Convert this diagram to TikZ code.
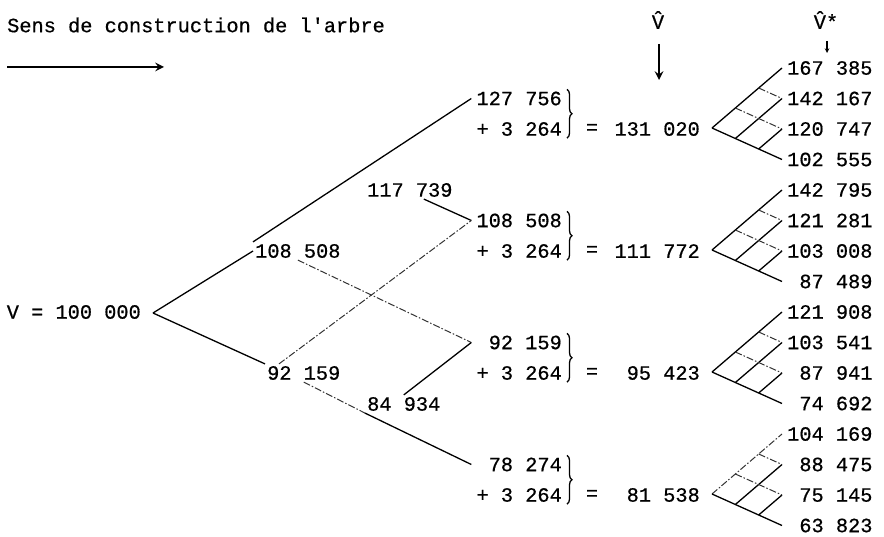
\documentclass[tikz,border=0pt]{standalone}
\usepackage{fontspec}
\newfontfamily\typew{Liberation Mono}[FakeBold=0.6]
\usetikzlibrary{arrows, calc, decorations.pathreplacing}
\newcommand{\fig}{\phantom{0}}
\tikzset{
  num/.style={font=\typew\fontsize{20.3}{24}\selectfont, inner sep=2pt},
  val/.style={num, inner xsep=5pt},
  br/.style={line width=1.3pt},
  fnt/.style={line width=1pt, black!80, dash pattern=on 7pt off 2pt on 1.5pt off 2pt},
  brc/.style={line width=1.3pt, decorate, decoration={brace, amplitude=5pt}},
  hdarr/.style={->, >=stealth, line width=2.8pt},
  smarr/.style={->, >=stealth, line width=1.1pt}
}
\begin{document}
\begin{tikzpicture}[x=1pt, y=-1pt]
		\useasboundingbox (0,0) rectangle (884,537);
		% titre et fleches
		\node[num, anchor=west] (title) at (5,25) {Sens de construction de l\textquotesingle arbre};
		\coordinate (h0) at (7,67);
		\coordinate (h1) at (164,67);
		\draw[hdarr] (h0) -- (h1);
		\node[num] (vhat) at (658,20) {\^{V}};
		\coordinate (vt0) at (659,44);
		\coordinate (vt1) at (659,80);
		\draw[hdarr] (vt0) -- (vt1);
		\node[num] (vstar) at (826,20) {\^{V}*};
		\coordinate (st0) at (827,41);
		\coordinate (st1) at (827,53);
		\draw[smarr] (st0) -- (st1);
		% quatre sommes et sous-arbres
		\begin{scope}
		\node[val, anchor=east] (v0) at (567,98.5) {127 756};
		\node[val, anchor=east] (p0) at (567,129) {+ 3 264};
		\draw[brc] (v0.north east) -- (p0.south east);
		\node[num] (eq) at (592,129) {=};
		\node[num, anchor=east] (s) at (702,129) {131 020};
		\coordinate (r) at (712,128);
		\node[val, anchor=west] (q0) at (782,68) {167 385};
		\node[val, anchor=west] (q1) at (782,98.5) {142 167};
		\node[val, anchor=west] (q2) at (782,129) {120 747};
		\node[val, anchor=west] (q3) at (782,159.5) {102 555};
		\draw[br] (r) -- (q0.west); \draw[br] (r) -- (q3.west);
		\draw[br] ($(r)!1/3!(q3.west)$) -- (q1.west);
		\draw[br] ($(r)!2/3!(q3.west)$) -- (q2.west);
		\draw[fnt] ($(r)!1/3!(q0.west)$) -- (q2.west);
		\draw[fnt] ($(r)!2/3!(q0.west)$) -- (q1.west);
		\end{scope}
		\begin{scope}[yshift=-122pt]
		\node[val, anchor=east] (v1) at (567,98.5) {108 508};
		\node[val, anchor=east] (p1) at (567,129) {+ 3 264};
		\draw[brc] (v1.north east) -- (p1.south east);
		\node[num] (eq) at (592,129) {=};
		\node[num, anchor=east] (s) at (702,129) {111 772};
		\coordinate (r) at (712,128);
		\node[val, anchor=west] (q0) at (782,68) {142 795};
		\node[val, anchor=west] (q1) at (782,98.5) {121 281};
		\node[val, anchor=west] (q2) at (782,129) {103 008};
		\node[val, anchor=west] (q3) at (782,159.5) {\fig87 489};
		\draw[br] (r) -- (q0.west); \draw[br] (r) -- (q3.west);
		\draw[br] ($(r)!1/3!(q3.west)$) -- (q1.west);
		\draw[br] ($(r)!2/3!(q3.west)$) -- (q2.west);
		\draw[fnt] ($(r)!1/3!(q0.west)$) -- (q2.west);
		\draw[fnt] ($(r)!2/3!(q0.west)$) -- (q1.west);
		\end{scope}
		\begin{scope}[yshift=-244pt]
		\node[val, anchor=east] (v2) at (567,98.5) {\fig92 159};
		\node[val, anchor=east] (p2) at (567,129) {+ 3 264};
		\draw[brc] (v2.north east) -- (p2.south east);
		\node[num] (eq) at (592,129) {=};
		\node[num, anchor=east] (s) at (702,129) {95 423};
		\coordinate (r) at (712,128);
		\node[val, anchor=west] (q0) at (782,68) {121 908};
		\node[val, anchor=west] (q1) at (782,98.5) {103 541};
		\node[val, anchor=west] (q2) at (782,129) {\fig87 941};
		\node[val, anchor=west] (q3) at (782,159.5) {\fig74 692};
		\draw[br] (r) -- (q0.west); \draw[br] (r) -- (q3.west);
		\draw[br] ($(r)!1/3!(q3.west)$) -- (q1.west);
		\draw[br] ($(r)!2/3!(q3.west)$) -- (q2.west);
		\draw[fnt] ($(r)!1/3!(q0.west)$) -- (q2.west);
		\draw[fnt] ($(r)!2/3!(q0.west)$) -- (q1.west);
		\end{scope}
		\begin{scope}[yshift=-366pt]
		\node[val, anchor=east] (v3) at (567,98.5) {\fig78 274};
		\node[val, anchor=east] (p3) at (567,129) {+ 3 264};
		\draw[brc] (v3.north east) -- (p3.south east);
		\node[num] (eq) at (592,129) {=};
		\node[num, anchor=east] (s) at (702,129) {81 538};
		\coordinate (r) at (712,128);
		\node[val, anchor=west] (q0) at (782,68) {104 169};
		\node[val, anchor=west] (q1) at (782,98.5) {\fig88 475};
		\node[val, anchor=west] (q2) at (782,129) {\fig75 145};
		\node[val, anchor=west] (q3) at (782,159.5) {\fig63 823};
		\draw[fnt] (r) -- (q0.west); \draw[br] (r) -- (q3.west);
		\draw[br] ($(r)!1/3!(q3.west)$) -- (q1.west);
		\draw[br] ($(r)!2/3!(q3.west)$) -- (q2.west);
		\draw[fnt] ($(r)!1/3!(q0.west)$) -- (q2.west);
		\draw[fnt] ($(r)!2/3!(q0.west)$) -- (q1.west);
		\end{scope}
		% arbre de gauche
		\coordinate (rt) at (153,313);
		\node[num, anchor=east] (root) at (143,312) {V = 100 000};
		\node[num, anchor=west] (u1) at (253,251) {108 508};
		\node[num, anchor=west] (d1) at (265,373) {92 159};
		\node[num, anchor=west] (u2) at (365,190) {117 739};
		\node[num, anchor=west] (d2) at (365,404) {84 934};
		\draw[br] (rt) -- (u1.west);
		\draw[br] (rt) -- (d1.north west);
		\draw[br] (u1.north west) -- (v0.west);
		\draw[br] ([xshift=14pt]u2.south) -- (v1.west);
		\draw[fnt] (u1.south) -- (v2.west);
		\draw[fnt] ([xshift=14pt]d1.north west) -- (v1.west);
		\draw[fnt] (d1.south) -- (d2.south west);
		\draw[br] (d2.south west) -- (v3.west);
		\draw[br] (d2.north) -- (v2.west);
	\end{tikzpicture}
\end{document}
